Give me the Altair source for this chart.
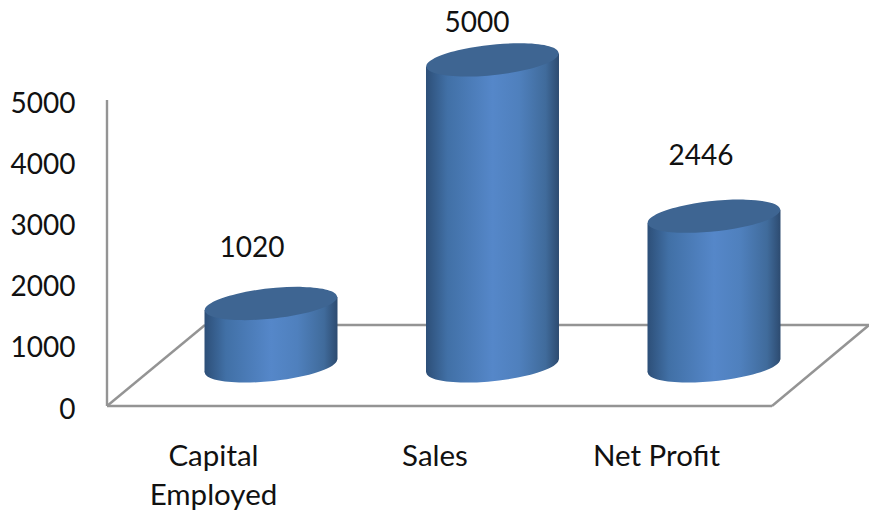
import altair as alt
import pandas as pd

categories = ["Capital Employed", "Sales", "Net Profit"]
axis_names = ["Capital\nEmployed", "Sales", "Net Profit"]
values = [1020, 5000, 2446]
y_ticks = [0, 1000, 2000, 3000, 4000, 5000]

FONT = "Lato"
PX_PER_UNIT = 0.0612   # vertical pixels per value unit
PX_PER_CAT = 221.5     # horizontal pixels between cylinders
FLOOR_LIFT = 655       # cylinders stand this far up the floor's depth
HALF_WIDTH = 66.5 / PX_PER_CAT
TILT = 6.5 / PX_PER_UNIT

# Sloped rim of a cylinder, unit semi-major axis, rotated six degrees
RIM = ("M -0.9945 0.1045 A 1 0.227 -6 1 1 0.9945 -0.1045 "
       "A 1 0.227 -6 1 1 -0.9945 0.1045 Z")
RIM_SIZE = (2 * 66.5) ** 2

shade = alt.Gradient(
    gradient="linear", x1=0, x2=1, y1=0, y2=0,
    stops=[
        alt.GradientStop(offset=0, color="#2d4f78"),
        alt.GradientStop(offset=0.16, color="#4170a6"),
        alt.GradientStop(offset=0.5, color="#5587c9"),
        alt.GradientStop(offset=0.7, color="#4f80bd"),
        alt.GradientStop(offset=0.9, color="#406b9b"),
        alt.GradientStop(offset=1, color="#2d4b70"),
    ],
)

x_scale = alt.Scale(domain=[-0.7404, 2.6998], nice=False, zero=False)
y_scale = alt.Scale(domain=[-1732, 6634], nice=False, zero=False)
x_enc = alt.X("x:Q", scale=x_scale, axis=None)

# Floor outline and back wall
floor_x = [-0.7404, -0.7404, -0.7404, -0.298, -0.298, 2.70, -0.7404, 2.2619, 2.2619, 2.70]
floor_y = [5000, 0, 0, 1323, 1323, 1323, 0, 0, 0, 1323]
floor_seg = ["wall", "wall", "left", "left", "back", "back", "front", "front", "right", "right"]
floor_rows = [{"x": a, "y": b, "seg": s} for a, b, s in zip(floor_x, floor_y, floor_seg)]
floor = alt.Chart(pd.DataFrame(floor_rows)).mark_line(
    color="#949494", strokeWidth=2.4
).encode(
    x=x_enc,
    y=alt.Y("y:Q", scale=y_scale,
            axis=alt.Axis(values=y_ticks, title=None, domain=False, ticks=False,
                          grid=False, labelFont=FONT, labelFontSize=28,
                          labelColor="#111111", labelPadding=32, labelOffset=4,
                          format="d")),
    detail="seg:N",
)

# Cylinder walls: a sloped band between the two rims
wall_rows = []
for i, (c, v) in enumerate(zip(categories, values)):
    wall_rows.append({"c": c, "x": i - HALF_WIDTH, "top": v + FLOOR_LIFT - TILT, "bot": FLOOR_LIFT - TILT})
    wall_rows.append({"c": c, "x": i + HALF_WIDTH, "top": v + FLOOR_LIFT + TILT, "bot": FLOOR_LIFT + TILT})
walls = alt.Chart(pd.DataFrame(wall_rows)).mark_area(color=shade, line=False, opacity=1).encode(
    x=x_enc,
    y=alt.Y("top:Q", scale=y_scale),
    y2="bot:Q",
    detail="c:N",
)

cyl = pd.DataFrame({
    "x": list(range(len(values))),
    "c": categories,
    "name": axis_names,
    "value": values,
})
cyl["top"] = cyl["value"] + FLOOR_LIFT
cyl["bot"] = FLOOR_LIFT

bottoms = alt.Chart(cyl).mark_point(
    shape=RIM, filled=True, fill=shade, stroke=None, opacity=1, size=RIM_SIZE
).encode(x=x_enc, y=alt.Y("bot:Q", scale=y_scale))

tops = alt.Chart(cyl).mark_point(
    shape=RIM, filled=True, fill="#3e6592", stroke=None, opacity=1, size=RIM_SIZE
).encode(x=x_enc, y=alt.Y("top:Q", scale=y_scale))

# Category names sit along the front edge of the floor
names = alt.Chart(cyl).mark_text(
    font=FONT, fontSize=29.5, color="#111111", dx=-57.5, lineBreak="\n",
    lineHeight=39, baseline="top", align="center"
).encode(x=x_enc, y=alt.value(443), text="name:N")

# Value labels, each with its own offset from the rim
label_offsets = {"Capital Employed": (-19, -54), "Sales": (-15.5, -36), "Net Profit": (-13, -59)}
labels = [
    alt.Chart(cyl[cyl["c"] == c]).mark_text(
        font=FONT, fontSize=28, color="#111111", dx=dx, dy=dy, baseline="middle"
    ).encode(x=x_enc, y=alt.Y("top:Q", scale=y_scale), text="value:Q")
    for c, (dx, dy) in label_offsets.items()
]

chart = alt.layer(floor, bottoms, walls, tops, names, *labels).properties(
    width=762, height=512,
    padding={"left": 107, "top": 0, "right": 0, "bottom": 0},
    autosize=alt.AutoSizeParams(type="none"),
    background="#ffffff",
).configure_view(stroke=None)

chart.save("out.html", embed_options={"renderer": "svg", "actions": False})
